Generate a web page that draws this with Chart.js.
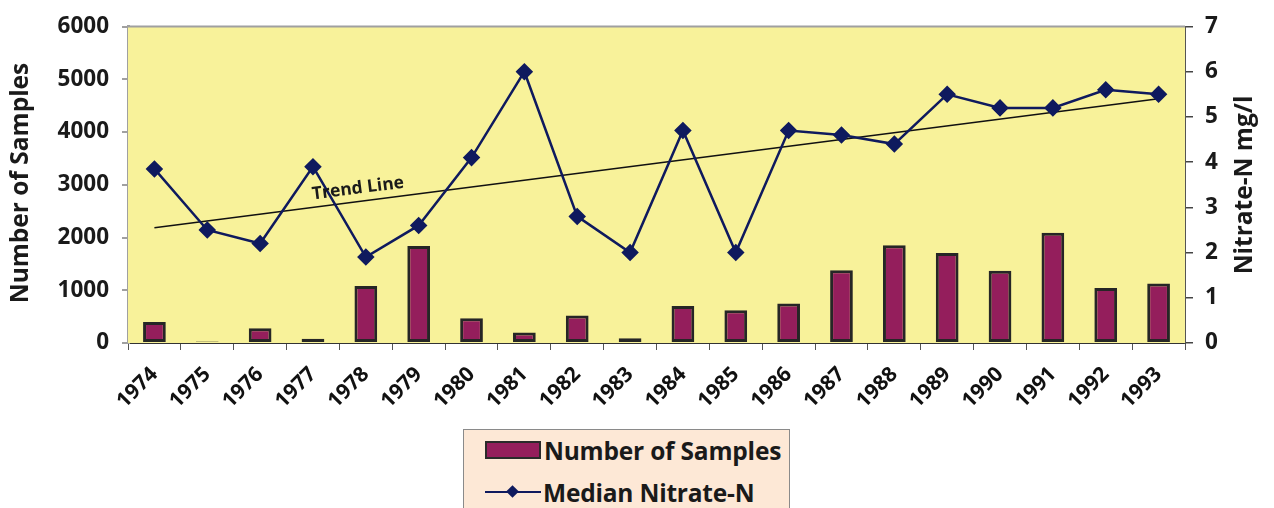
<!DOCTYPE html>
<html>
<head>
<meta charset="utf-8">
<script src="https://cdn.jsdelivr.net/npm/chart.js@4/dist/chart.umd.min.js"></script>
<style>
  html, body { margin: 0; padding: 0; background: #fff; }
  #wrap { position: relative; width: 1274px; height: 508px; overflow: hidden; }
  #legend {
    position: absolute; left: 463px; top: 429px; width: 327px; height: 100px;
    background: #fde8d6; border: 1px solid #8a8a8a; box-sizing: border-box;
    font-family: "Open Sans", sans-serif; font-weight: 700; font-size: 24.5px; color: #1a1a1a;
    letter-spacing: -0.2px;
  }
  .item { position: absolute; left: 21px; height: 30px; display: flex; align-items: center; white-space: nowrap; }
  .bar-sw { width: 52px; height: 14px; background: #941e5c; border: 2px solid #2a2a2a; margin-right: 3px; }
  .line-sw { position: relative; width: 56px; height: 14px; margin-right: 2px; }
  .line-sw:before { content: ""; position: absolute; left: 0; right: 0; top: 6px; height: 2px; background: #0f1a5e; }
  .line-sw:after { content: ""; position: absolute; left: 23px; top: 2px; width: 9px; height: 9px; background: #0f1a5e; transform: rotate(45deg); }
</style>
</head>
<body>
<div id="wrap">
  <canvas id="chart" width="1274" height="508"></canvas>
  <div id="legend">
    <div class="item" style="top:5px"><span class="bar-sw"></span>Number of Samples</div>
    <div class="item" style="top:47px"><span class="line-sw"></span>Median Nitrate-N</div>
  </div>
</div>
<script>
const years = ["1974","1975","1976","1977","1978","1979","1980","1981","1982","1983",
               "1984","1985","1986","1987","1988","1989","1990","1991","1992","1993"]
const samples = [400, 30, 280, 80, 1080, 1840, 470, 200, 520, 90,
                 700, 620, 750, 1380, 1855, 1705, 1370, 2090, 1045, 1130]
const nitrate = [3.85, 2.5, 2.2, 3.9, 1.9, 2.6, 4.1, 6.0, 2.8, 2.0,
                 4.7, 2.0, 4.7, 4.6, 4.4, 5.5, 5.2, 5.2, 5.6, 5.5]
const trend = [2.55, null, null, null, null, null, null, null, null, null,
               null, null, null, null, null, null, null, null, null, 5.4]
const leftTicks = [0, 1000, 2000, 3000, 4000, 5000, 6000]
const rightTicks = [0, 1, 2, 3, 4, 5, 6, 7]

const FONT = "Open Sans"
const tickFont = { family: FONT, size: 22.5, weight: "700" }

const chartDecor = {
    id: "chartDecor",
    beforeDatasetsDraw(chart){
        const { ctx, chartArea: a } = chart
        ctx.save()
        ctx.fillStyle = "#f8f29a"
        ctx.fillRect(a.left, a.top, a.right - a.left, a.bottom - a.top)
        ctx.strokeStyle = "#a0a0a0"
        ctx.lineWidth = 2
        ctx.beginPath()
        ctx.moveTo(a.left, a.top)
        ctx.lineTo(a.right, a.top)
        ctx.stroke()
        ctx.restore()
    },
    afterDraw(chart){
        const { ctx, scales } = chart
        ctx.save()
        ctx.fillStyle = "#1a1a1a"
        ctx.font = "700 24.5px '" + FONT + "'"
        ctx.textAlign = "center"
        ctx.textBaseline = "middle"
        // axis titles, both read bottom to top
        ctx.save()
        ctx.translate(21, 183)
        ctx.rotate(-Math.PI / 2)
        ctx.fillText("Number of Samples", 0, 0)
        ctx.restore()
        ctx.save()
        ctx.translate(1245, 185)
        ctx.rotate(-Math.PI / 2)
        ctx.fillText("Nitrate-N mg/l", 0, 0)
        ctx.restore()
        // trend line label
        const x0 = scales.x.getPixelForValue(0), x1 = scales.x.getPixelForValue(19)
        const y0 = scales.y2.getPixelForValue(trend[0]), y1 = scales.y2.getPixelForValue(trend[19])
        const ang = Math.atan2(y1 - y0, x1 - x0)
        const tx = 358
        const ty = y0 + (y1 - y0) * (tx - x0) / (x1 - x0) - 13
        ctx.translate(tx, ty)
        ctx.rotate(ang)
        ctx.font = "700 17.5px '" + FONT + "'"
        ctx.fillText("Trend Line", 0, 0)
        ctx.restore()
    }
}

new Chart(document.getElementById("chart"), {
    type: "bar",
    data: {
        labels: years,
        datasets: [
            {
                type: "line",
                label: "Median Nitrate-N",
                data: nitrate,
                yAxisID: "y2",
                borderColor: "#0f1a5e",
                backgroundColor: "#0f1a5e",
                borderWidth: 2.5,
                pointStyle: "rectRot",
                pointRadius: 7,
                tension: 0,
                order: 0
            },
            {
                type: "line",
                label: "Trend",
                data: trend,
                yAxisID: "y2",
                spanGaps: true,
                borderColor: "#111",
                borderWidth: 1.5,
                pointRadius: 0,
                order: 1
            },
            {
                label: "Number of Samples",
                data: samples,
                yAxisID: "y",
                backgroundColor: "#941e5c",
                borderColor: "#262626",
                borderWidth: 3,
                borderSkipped: false,
                barPercentage: 0.43,
                categoryPercentage: 1,
                order: 2
            }
        ]
    },
    options: {
        responsive: false,
        animation: false,
        layout: { padding: { left: 0, right: 0, top: 24, bottom: 0 } },
        plugins: { legend: { display: false }, tooltip: { enabled: false } },
        scales: {
            x: {
                offset: true,
                grid: { display: true, offset: true, drawOnChartArea: false, tickLength: 7, color: "#555", lineWidth: 1 },
                border: { color: "#333", width: 2 },
                ticks: { minRotation: 45, maxRotation: 45, font: { family: FONT, size: 21, weight: "700" }, color: "#111", padding: 12 },
                afterFit(s){ s.height = 165 }
            },
            y: {
                position: "left",
                min: 0, max: 6000,
                afterBuildTicks(s){ s.ticks = leftTicks.map(v => ({ value: v })) },
                grid: { drawOnChartArea: false, tickLength: 6, color: "#a0a0a0", lineWidth: 2 },
                border: { color: "#a0a0a0", width: 3 },
                ticks: { font: tickFont, color: "#1a1a1a", padding: 13, callback: v => String(v) },
                afterFit(s){ s.width = 128 }
            },
            y2: {
                position: "right",
                min: 0, max: 7,
                afterBuildTicks(s){ s.ticks = rightTicks.map(v => ({ value: v })) },
                grid: { drawOnChartArea: false, tickLength: 8, color: "#444", lineWidth: 1.5 },
                border: { color: "#555", width: 2 },
                ticks: { font: tickFont, color: "#1a1a1a", padding: 12, callback: v => String(v) },
                afterFit(s){ s.width = 89 }
            }
        }
    },
    plugins: [chartDecor]
})
</script>
</body>
</html>
